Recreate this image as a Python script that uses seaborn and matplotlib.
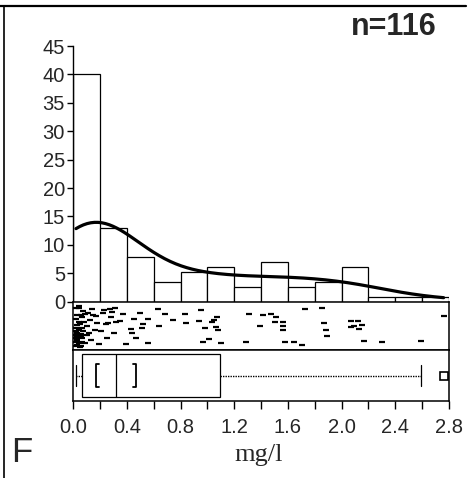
import numpy as np
import pandas as pd
import seaborn as sns
import matplotlib.pyplot as plt
from matplotlib.lines import Line2D

# ---------------- data ----------------
# individual concentrations (mg/l) shown in the dot strip, n = 116
conc_mg_l = [
    0.02, 0.02, 0.02, 0.02, 0.02, 0.02, 0.02, 0.02,
    0.03, 0.03, 0.03, 0.03, 0.03, 0.03,
    0.04, 0.04, 0.04, 0.04,
    0.045, 0.05, 0.05, 0.055, 0.06, 0.06, 0.06,
    0.065, 0.065, 0.065, 0.065,
    0.07, 0.075, 0.08, 0.085, 0.09, 0.10, 0.10, 0.11, 0.12, 0.125,
    0.13, 0.14, 0.15, 0.16, 0.17, 0.18, 0.19,
    0.21, 0.22, 0.23, 0.24, 0.25, 0.26, 0.27, 0.28, 0.29, 0.30,
    0.31, 0.32, 0.35, 0.37, 0.39,
    0.43, 0.44, 0.45, 0.47, 0.50, 0.51, 0.52, 0.56, 0.56,
    0.63, 0.64, 0.68, 0.74,
    0.83, 0.84, 0.935, 0.95, 0.966, 0.98,
    1.01, 1.03, 1.05, 1.06, 1.07, 1.08, 1.10,
    1.29, 1.31, 1.39,
    1.415, 1.47, 1.50, 1.51, 1.565, 1.565, 1.565, 1.58,
    1.645, 1.705, 1.73,
    1.85, 1.87, 1.88, 1.89,
    2.07, 2.07, 2.09, 2.12, 2.13, 2.15, 2.17,
    2.30,
    2.59,
    2.76,
]
# vertical position of each dot inside the strip (0 = top, 1 = bottom)
strip_pos = [
    0.10, 0.35, 0.55, 0.62, 0.70, 0.78, 0.86, 0.95,
    0.25, 0.48, 0.66, 0.74, 0.82, 0.92,
    0.05, 0.40, 0.58, 0.88,
    0.09, 0.45, 0.97, 0.68, 0.25, 0.73, 0.94,
    0.54, 0.77, 0.30, 0.85,
    0.16, 0.62, 0.40, 0.88, 0.24, 0.70, 0.50, 0.20, 0.65, 0.36,
    0.82, 0.12, 0.26, 0.58, 0.28, 0.44, 0.90,
    0.62, 0.20, 0.15, 0.46, 0.78, 0.43, 0.11, 0.30, 0.18, 0.65,
    0.09, 0.40, 0.38, 0.24, 0.90,
    0.56, 0.66, 0.35, 0.78, 0.20, 0.54, 0.45, 0.34, 0.89,
    0.12, 0.51, 0.22, 0.37,
    0.24, 0.43, 0.38, 0.15, 0.85, 0.54,
    0.79, 0.40, 0.36, 0.52, 0.30, 0.58, 0.89,
    0.85, 0.22, 0.50,
    0.25, 0.22, 0.41, 0.30, 0.41, 0.50, 0.60, 0.87,
    0.87, 0.92, 0.11,
    0.10, 0.43, 0.60, 0.72,
    0.38, 0.52, 0.50, 0.38, 0.56, 0.47, 0.83,
    0.85,
    0.83,
    0.27,
]
hist_range = (0.0, 2.8)
n_bins = 14
x_major_ticks = [0.0, 0.4, 0.8, 1.2, 1.6, 2.0, 2.4, 2.8]
x_tick_labels = ["0.0", "0.4", "0.8", "1.2", "1.6", "2.0", "2.4", "2.8"]
x_minor_ticks = [0.2, 0.6, 1.0, 1.4, 1.8, 2.2, 2.6]
y_ticks = [0, 5, 10, 15, 20, 25, 30, 35, 40, 45]
n_label = "n=116"
panel_label = "F"
x_label = "mg/l"

df = pd.DataFrame({"conc": conc_mg_l, "pos": strip_pos})

# ---------------- figure ----------------
sns.set_theme(style="white")
plt.rcParams["font.family"] = ["Liberation Sans", "DejaVu Sans"]

W, H = 469, 478
fig = plt.figure(figsize=(W / 100, H / 100), dpi=100)


def fx(px):
    return px / W


def fy(py):
    return 1 - py / H


x0, x1 = 73.3, 449.0
ax_hist = fig.add_axes([fx(x0), fy(301.7), fx(x1) - fx(x0), fy(46) - fy(301.7)])
ax_strip = fig.add_axes([fx(x0), fy(350), fx(x1) - fx(x0), fy(302) - fy(350)])
ax_box = fig.add_axes([fx(x0), fy(401), fx(x1) - fx(x0), fy(350) - fy(401)])

# histogram (percent) with smoothed density curve
sns.histplot(data=df, x="conc", bins=n_bins, binrange=hist_range, stat="percent",
             kde=True, kde_kws={"bw_adjust": 1.12, "clip": hist_range},
             color="black", ax=ax_hist, line_kws={"linewidth": 2.3})
for p in ax_hist.patches:
    p.set_facecolor("white")
    p.set_edgecolor("black")
    p.set_linewidth(0.9)
    p.set_alpha(1)
for ln in ax_hist.lines:
    ln.set_color("black")
    ln.set_zorder(5)
ax_hist.set_xlim(*hist_range)
ax_hist.set_ylim(0, 45)
ax_hist.set_yticks(y_ticks)
ax_hist.set_xticks([])
ax_hist.set_xlabel("")
ax_hist.set_ylabel("")
for s in ["top", "right", "bottom"]:
    ax_hist.spines[s].set_visible(False)
ax_hist.spines["left"].set_color("black")
ax_hist.spines["left"].set_linewidth(1.0)
ax_hist.tick_params(axis="y", direction="out", length=4.5, width=1.0,
                    color="black", labelsize=14.5, pad=1.5, left=True)
ax_hist.patch.set_alpha(0)

# dot strip
sns.scatterplot(data=df, x="conc", y="pos", marker="_", s=15, color="black",
                linewidth=1.6, ax=ax_strip, legend=False)
ax_strip.set_xlim(*hist_range)
ax_strip.set_ylim(1.04, -0.04)
ax_strip.set_xticks([])
ax_strip.set_yticks([])
ax_strip.set_xlabel("")
ax_strip.set_ylabel("")

# box plot with median confidence brackets
sns.boxplot(data=df, x="conc", ax=ax_box, width=0.84, color="white",
            linecolor="black", linewidth=0.9, whis=1.5,
            whiskerprops={"linestyle": (0, (1, 0.8)), "linewidth": 1.0},
            flierprops={"marker": "s", "markersize": 6,
                        "markerfacecolor": "white", "markeredgecolor": "black",
                        "markeredgewidth": 1.2})
vals = np.asarray(conc_mg_l)
q1, med, q3 = np.percentile(vals, [25, 50, 75])
half = 1.57 * (q3 - q1) / np.sqrt(len(vals))
lo, hi = med - half, med + half
bh, serif = 0.23, 0.022
ax_box.plot([lo + serif, lo, lo, lo + serif], [-bh, -bh, bh, bh], color="black", lw=1.3)
ax_box.plot([hi - serif, hi, hi, hi - serif], [-bh, -bh, bh, bh], color="black", lw=1.3)
ax_box.set_xlim(*hist_range)
ax_box.set_ylim(0.5, -0.5)
ax_box.set_yticks([])
ax_box.set_xticks(x_major_ticks)
ax_box.set_xticklabels(x_tick_labels)
ax_box.set_xticks(x_minor_ticks, minor=True)
ax_box.tick_params(axis="x", which="both", direction="out", length=5.5, width=1.0,
                   color="black", labelsize=14.5, pad=6.5, bottom=True)
ax_box.set_xlabel("")
ax_box.set_ylabel("")

for ax in (ax_strip, ax_box):
    for s in ax.spines.values():
        s.set_visible(True)
        s.set_color("black")
        s.set_linewidth(1.1)

# texts
fig.text(fx(259), fy(455), x_label, ha="center", va="center", fontsize=19,
         family=["Liberation Serif", "DejaVu Serif"])
fig.text(fx(22), fy(453), panel_label, ha="center", va="center", fontsize=25)
fig.text(fx(437), fy(27), n_label, ha="right", va="center", fontsize=22,
         fontweight="bold")

# page frame lines
fig.add_artist(Line2D([fx(3.5), fx(3.5)], [0, fy(6)], color="black", lw=1.2))
fig.add_artist(Line2D([0, fx(466)], [fy(6), fy(6)], color="black", lw=1.6))

fig.savefig("out.png", dpi=100)
